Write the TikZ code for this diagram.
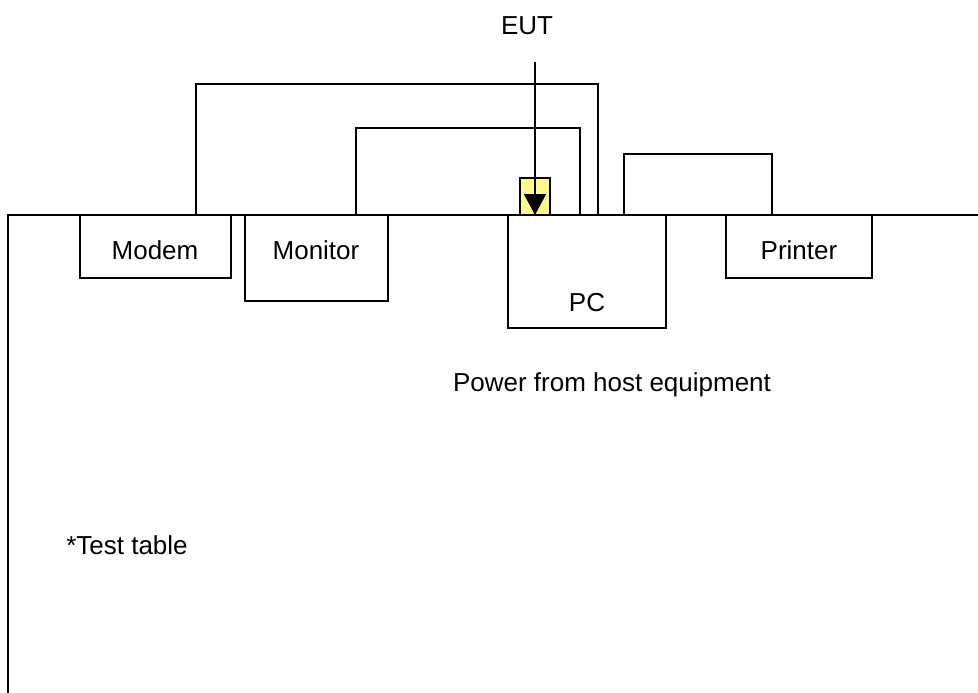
\documentclass[tikz,border=0pt]{standalone}
\usepackage{fontspec}
\setmainfont{Liberation Sans}
\usetikzlibrary{arrows.meta,positioning}

\begin{document}
\begin{tikzpicture}[
    x=1pt, y=-1pt,
    line width=1.4pt,
    unit/.style={draw, line width=1.6pt, minimum width=#1, inner sep=0pt, outer sep=0pt, anchor=north west},
    label text/.style={font=\fontsize{26}{30}\selectfont},
]
\useasboundingbox (0,0) rectangle (978,693);
% test table
\draw (978,215) -- (8,215) -- (8,693);
% units on the table
\node[unit=151pt, minimum height=63pt] (modem) at (80,215) {};
\node[label text] at (155,250) {Modem};
\node[unit=143pt, minimum height=86pt] (monitor) at (245,215) {};
\node[label text] at (316,250) {Monitor};
\node[unit=158pt, minimum height=113pt] (pc) at (508,215) {};
\node[label text] at (587,303) {PC};
\node[unit=146pt, minimum height=63pt] (printer) at (726,215) {};
\node[label text] at (799,250) {Printer};
% EUT
\node[draw, line width=1.8pt, fill=yellow!45, minimum width=30pt, minimum height=37pt, inner sep=0pt, outer sep=0pt, anchor=south] (eut) at (535,215) {};
\node[label text] (eutlabel) at (527,26) {EUT};
\coordinate (euttop) at (535,62);
\draw[-{Triangle[width=22pt,length=21pt]}] (euttop) -- (eut.south);
% cables
\coordinate (c1a) at (196,215);
\coordinate (c1b) at (598,215);
\coordinate (c2a) at (356,215);
\coordinate (c2b) at (580,215);
\coordinate (c3a) at (624,215);
\coordinate (c3b) at (772,215);
\draw (c1a) -- (196,84) -- (598,84) -- (c1b);
\draw (c2a) -- (356,128) -- (580,128) -- (c2b);
\draw (c3a) -- (624,154) -- (772,154) -- (c3b);
% notes
\node[label text] (power) at (612,385) {Power from host equipment};
\node[label text] (table) at (127,545) {*Test table};
\end{tikzpicture}
\end{document}
